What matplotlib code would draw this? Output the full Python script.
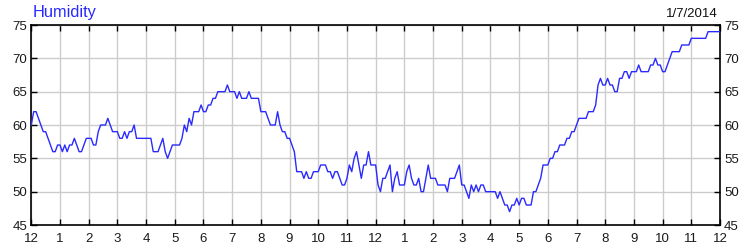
import matplotlib
matplotlib.use("Agg")
import matplotlib.pyplot as plt
import numpy as np

# humidity every 5 minutes, one row per hour (midnight to midnight)
hour00 = [60, 62, 62, 61, 60, 59, 59, 58, 57, 56, 56, 57]
hour01 = [57, 56, 57, 56, 57, 57, 58, 57, 56, 56, 57, 58]
hour02 = [58, 58, 57, 57, 59, 60, 60, 60, 61, 60, 59, 59]
hour03 = [59, 58, 58, 59, 58, 59, 59, 60, 58, 58, 58, 58]
hour04 = [58, 58, 58, 56, 56, 56, 57, 58, 56, 55, 56, 57]
hour05 = [57, 57, 57, 58, 60, 59, 61, 60, 62, 62, 62, 63]
hour06 = [62, 62, 63, 63, 64, 64, 65, 65, 65, 65, 66, 65]
hour07 = [65, 65, 64, 65, 64, 64, 64, 65, 64, 64, 64, 64]
hour08 = [62, 62, 62, 61, 60, 60, 60, 62, 60, 59, 59, 58]
hour09 = [58, 57, 56, 53, 53, 53, 52, 53, 52, 52, 53, 53]
hour10 = [53, 54, 54, 54, 53, 53, 52, 53, 53, 52, 51, 51]
hour11 = [52, 54, 53, 55, 56, 54, 52, 54, 54, 56, 54, 54]
hour12 = [54, 51, 50, 52, 52, 53, 54, 50, 52, 53, 51, 51]
hour13 = [51, 53, 54, 52, 51, 51, 52, 50, 50, 52, 54, 52]
hour14 = [52, 52, 51, 51, 51, 51, 50, 52, 52, 52, 53, 54]
hour15 = [51, 51, 50, 49, 51, 50, 51, 50, 51, 51, 50, 50]
hour16 = [50, 50, 50, 49, 50, 49, 48, 48, 47, 48, 48, 49]
hour17 = [48, 49, 49, 48, 48, 48, 50, 50, 51, 52, 54, 54]
hour18 = [54, 55, 55, 56, 56, 57, 57, 57, 58, 58, 59, 59]
hour19 = [60, 61, 61, 61, 61, 62, 62, 62, 63, 66, 67, 66]
hour20 = [66, 67, 66, 66, 65, 65, 67, 67, 68, 68, 67, 68]
hour21 = [68, 68, 69, 68, 68, 68, 68, 69, 69, 70, 69, 69]
hour22 = [68, 68, 69, 70, 71, 71, 71, 71, 72, 72, 72, 72]
hour23 = [73, 73, 73, 73, 73, 73, 73, 74, 74, 74, 74, 74]
last_value = [74]

hour_labels = ["12", "1", "2", "3", "4", "5", "6", "7", "8", "9", "10", "11",
               "12", "1", "2", "3", "4", "5", "6", "7", "8", "9", "10", "11", "12"]
y_ticks = [45, 50, 55, 60, 65, 70, 75]
title_text = "Humidity"
date_text = "1/7/2014"

rows = [hour00, hour01, hour02, hour03, hour04, hour05, hour06, hour07,
        hour08, hour09, hour10, hour11, hour12, hour13, hour14, hour15,
        hour16, hour17, hour18, hour19, hour20, hour21, hour22, hour23, last_value]
values = np.array([v for r in rows for v in r], dtype=float)
times = np.arange(len(values)) * (5.0 / 60.0)

FONT = "Liberation Sans"
plt.rcParams["font.family"] = [FONT, "DejaVu Sans"]

fig = plt.figure(figsize=(7.5, 2.5), dpi=100)
ax = fig.add_axes([31.3 / 750, 25 / 250, (720 - 31.3) / 750, 200 / 250])

ax.plot(times, values, color="#2a2aff", linewidth=1.0, zorder=3)

ax.set_xlim(0, 24)
ax.set_ylim(45, 75)
ax.set_xticks(np.arange(25))
ax.set_xticklabels(hour_labels)
ax.set_yticks(y_ticks)
ax.grid(True, color="#cccccc", linewidth=1.0)
ax.set_axisbelow(True)

ax.tick_params(axis="both", which="both", direction="in", length=4.5, width=1,
               top=True, bottom=True, left=True, right=True,
               labelleft=True, labelright=True, labelsize=9.5,
               labelcolor="#1a1a1a", pad=3)
ax.tick_params(axis="x", pad=5.5)
for s in ax.spines.values():
    s.set_color("black")
    s.set_linewidth(1.2)

fig.text(33 / 750, 1 - 17 / 250, title_text, color="#2828ff", fontsize=11.8,
         ha="left", va="baseline")
fig.text(718 / 750, 1 - 17 / 250, date_text, color="#111111", fontsize=9.5,
         ha="right", va="baseline")

fig.savefig("out.png", dpi=100)
